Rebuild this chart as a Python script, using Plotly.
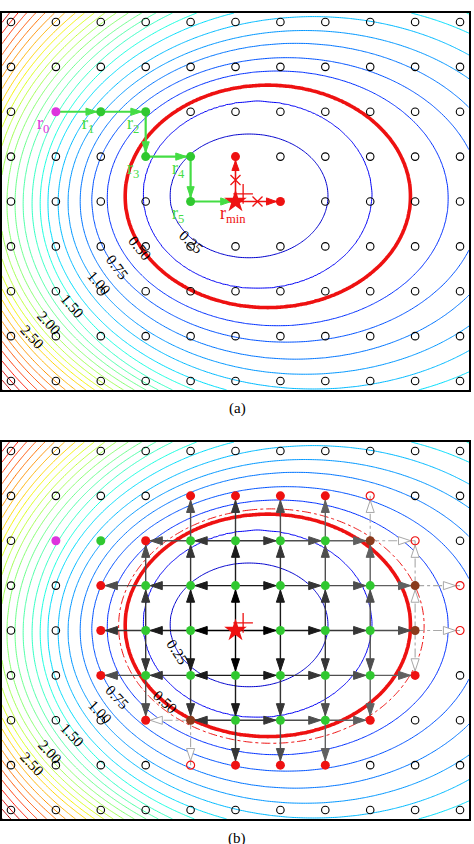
import numpy as np
import plotly.graph_objects as go

# ---------------- values ----------------
n_cols, n_rows = 11, 9                      # sample grid (columns u, rows v from the top)
f_min = 0.10
levels = [0.25, 0.375, 0.5, 0.625, 0.75, 0.875, 1.0, 1.125, 1.25, 1.375, 1.5, 1.625,
          1.75, 1.875, 2.0, 2.125, 2.25, 2.375, 2.5, 2.625, 2.75, 2.875, 3.0, 3.125,
          3.25, 3.375, 3.5, 3.625, 3.75, 3.875, 4.0]
# each contour is (close to) an ellipse: left crossing, centre, half-heights (grid units)
lvl_left = [3.54, 2.94, 2.54, 2.14, 1.80, 1.54, 1.27, 1.05, 0.82, 0.65, 0.47, 0.27, 0.09,
            -0.09, -0.25, -0.40, -0.54, -0.67, -0.79, -0.91, -1.03, -1.15, -1.27, -1.39,
            -1.51, -1.63, -1.75, -1.87, -1.99, -2.11, -2.23]
lvl_cu = [5.30, 5.49, 5.72, 5.94, 6.14, 6.34, 6.54, 6.74, 6.94, 7.14, 7.34, 7.54, 7.74, 7.94,
          8.14, 8.34, 8.54, 8.74, 8.94, 9.14, 9.34, 9.54, 9.74, 9.94, 10.14, 10.34, 10.54,
          10.74, 10.94, 11.14, 11.34]
lvl_cv = [3.875, 3.85, 3.885, 3.93, 3.965, 3.995, 4.02, 4.03, 4.04, 4.045, 4.05, 4.05, 4.05,
          4.05, 4.05, 4.05, 4.05, 4.05, 4.05, 4.05, 4.05, 4.05, 4.05, 4.05, 4.05, 4.05, 4.05,
          4.05, 4.05, 4.05, 4.05]
lvl_b_bottom = [1.38, 2.09, 2.48, 2.84, 3.17, 3.52, 3.83, 4.15, 4.44, 4.71, 4.95, 5.12, 5.28,
                5.44, 5.60, 5.76, 5.92, 6.08, 6.24, 6.46, 6.68, 6.90, 7.12, 7.36, 7.60, 7.84,
                8.08, 8.32, 8.56, 8.80, 9.04]
lvl_b_top = [1.38, 2.09, 2.48, 2.84, 3.17, 3.52, 3.83, 4.15, 4.48, 4.79, 5.07, 5.28, 5.48,
             5.68, 5.88, 6.08, 6.28, 6.48, 6.68, 6.94, 7.20, 7.46, 7.72, 7.99, 8.25, 8.52,
             8.78, 9.05, 9.31, 9.58, 9.84]
red_level = 0.5
dash_level = 0.55
colour_top = 3.65         # level shown in the darkest red of the jet scale

label_text = ["0.25", "0.50", "0.75", "1.00", "1.50", "2.00", "2.50"]
label_a_u = [4.01, 2.87, 2.36, 1.96, 1.36, 0.85, 0.47]
label_a_v = [4.90, 5.03, 5.46, 5.81, 6.33, 6.70, 7.02]
label_a_ang = [43, 50, 53, 48, 49, 47, 47]
label_b_u = [3.70, 3.43, 2.36, 1.98, 1.36, 0.87, 0.47]
label_b_v = [4.48, 5.59, 5.48, 5.81, 6.33, 6.70, 6.97]
label_b_ang = [57, 42, 47, 46, 47, 47, 47]

# panel (a): steepest-descent path
start_node = (1, 2)
path_a = [(1, 2), (2, 2), (3, 2), (3, 3), (4, 3), (4, 4), (5, 4)]
path_names = ["r<sub>0</sub>", "r<sub>1</sub>", "r<sub>2</sub>", "r<sub>3</sub>",
              "r<sub>4</sub>", "r<sub>5</sub>"]
star = (5, 4)
probe_a = [(5, 3), (6, 4)]
cross_u, cross_v = [5.0, 5.49], [3.52, 4.0]
plus_u, plus_v = 5.17, 3.83

# panel (b): flood fill around the minimum
extra_green_b = [(2, 2)]
green_b = [(4, 2), (5, 2), (6, 2), (7, 2), (3, 3), (4, 3), (5, 3), (6, 3), (7, 3), (8, 3),
           (3, 4), (4, 4), (6, 4), (7, 4), (8, 4), (3, 5), (4, 5), (5, 5), (6, 5), (7, 5),
           (8, 5), (5, 6), (6, 6), (7, 6)]
border_b = [(8, 2), (9, 3), (9, 4), (4, 6)]
red_b = [(4, 1), (5, 1), (6, 1), (7, 1), (3, 2), (2, 3), (2, 4), (2, 5), (9, 5), (3, 6),
         (8, 6), (5, 7), (6, 7), (7, 7)]
red_open_b = [(8, 1), (9, 2), (10, 3), (10, 4), (4, 7)]

# ---------------- colours / styles ----------------
def jet(x):
    r = np.interp(x, [0, 0.35, 0.66, 0.89, 1], [0, 0, 1, 1, 0.5])
    g = np.interp(x, [0, 0.125, 0.375, 0.64, 0.91, 1], [0, 0, 1, 1, 0, 0])
    b = np.interp(x, [0, 0.11, 0.34, 0.65, 1], [0.5, 1, 1, 0, 0])
    return "rgb(%d,%d,%d)" % (r * 255, g * 255, b * 255)

# plotly spreads a line-contour colourscale over [first level, last level]
lo, hi = levels[0], levels[-1]
jet_scale = [[float(p), jet(min(1.0, (lo + p * (hi - lo)) / colour_top))]
             for p in np.linspace(0, 1, 61)]
GREEN, LGREEN, RED, MAG = "#30c830", "#44dd44", "#ee1111", "#dd33dd"
BROWN = "#8a3a1c"
SERIF = "Liberation Serif"

# ---------------- field from the nested contour ellipses ----------------
L = np.array(levels)
cu = np.array(lvl_cu)[:, None, None]
cv = np.array(lvl_cv)[:, None, None]
aa = (np.array(lvl_cu) - np.array(lvl_left))[:, None, None]
uu = np.linspace(-0.2, 10.2, 261)
vv = np.linspace(-0.2, 8.2, 211)
U, V = np.meshgrid(uu, vv)
bb = np.where(V[None] < cv, np.array(lvl_b_top)[:, None, None],
              np.array(lvl_b_bottom)[:, None, None])
Q = np.sqrt(((U[None] - cu) / aa) ** 2 + ((V[None] - cv) / bb) ** 2)
K = len(L)
m = (Q >= 1).sum(axis=0)
k0 = np.clip(m - 1, 0, K - 2)
k1 = k0 + 1
q0 = np.take_along_axis(Q, k0[None], 0)[0]
q1 = np.take_along_axis(Q, k1[None], 0)[0]
F = L[k0] + (L[k1] - L[k0]) * (q0 - 1) / np.maximum(q0 - q1, 1e-6)
F = np.where(m == 0, f_min + (L[0] - f_min) * Q[0] ** 2, F)

fig = go.Figure()
axes = [("x", "y"), ("x2", "y2")]

def add_contours(xa, ya, dashed):
    fig.add_trace(go.Contour(x=uu, y=vv, z=F, xaxis=xa, yaxis=ya, autocontour=False,
                             contours=dict(start=lo, end=hi, size=0.125, coloring="lines"),
                             colorscale=jet_scale, line=dict(width=1), showscale=False,
                             hoverinfo="skip"))
    if dashed:
        fig.add_trace(go.Contour(x=uu, y=vv, z=F, xaxis=xa, yaxis=ya, autocontour=False,
                                 contours=dict(start=dash_level, end=dash_level, size=1,
                                               coloring="none"),
                                 line=dict(width=1, color=RED, dash="dashdot"),
                                 showscale=False, hoverinfo="skip"))
    fig.add_trace(go.Contour(x=uu, y=vv, z=F, xaxis=xa, yaxis=ya, autocontour=False,
                             contours=dict(start=red_level, end=red_level, size=1,
                                           coloring="none"),
                             line=dict(width=3.6, color=RED), showscale=False,
                             hoverinfo="skip"))

def head_poly(edges, gap, length, half):
    xs, ys = [], []
    for (a, b) in edges:
        dx, dy = b[0] - a[0], b[1] - a[1]
        n = np.hypot(dx, dy)
        ux, uy = dx / n, dy / n
        tx, ty = b[0] - ux * gap, b[1] - uy * gap
        bx, by = tx - ux * length, ty - uy * length
        px, py = -uy, ux
        xs += [tx, bx + px * half, bx - px * half, tx, None]
        ys += [ty, by + py * half, by - py * half, ty, None]
    return xs, ys

def seg(edges):
    xs, ys = [], []
    for (a, b) in edges:
        xs += [a[0], b[0], None]
        ys += [a[1], b[1], None]
    return xs, ys

def add_arrows(xa, ya, edges, color, width, dash="solid", open_head=False,
               gap=0.1, length=0.27, half=0.09):
    if not edges:
        return
    xs, ys = seg(edges)
    fig.add_trace(go.Scatter(x=xs, y=ys, xaxis=xa, yaxis=ya, mode="lines",
                             line=dict(color=color, width=width, dash=dash),
                             hoverinfo="skip", showlegend=False))
    hx, hy = head_poly(edges, gap, length, half)
    fig.add_trace(go.Scatter(x=hx, y=hy, xaxis=xa, yaxis=ya, mode="lines", fill="toself",
                             fillcolor="white" if open_head else color,
                             line=dict(color=color, width=1), hoverinfo="skip",
                             showlegend=False))

def add_points(xa, ya, nodes, color, size=9, symbol="circle", lw=0):
    if not nodes:
        return
    fig.add_trace(go.Scatter(x=[n[0] for n in nodes], y=[n[1] for n in nodes], xaxis=xa,
                             yaxis=ya, mode="markers",
                             marker=dict(symbol=symbol, size=size, color=color,
                                         line=dict(color=color, width=lw)),
                             hoverinfo="skip", showlegend=False))

def add_plus(xa, ya):
    fig.add_trace(go.Scatter(x=[plus_u], y=[plus_v], xaxis=xa, yaxis=ya, mode="markers",
                             marker=dict(symbol="cross-thin-open", size=14, color=RED,
                                         line=dict(color=RED, width=1.3)),
                             hoverinfo="skip", showlegend=False))

all_nodes = [(u, v) for v in range(n_rows) for u in range(n_cols)]

# ---------------- panel (a) ----------------
xa, ya = axes[0]
add_contours(xa, ya, False)
special_a = set(path_a) | set(probe_a)
add_points(xa, ya, [n for n in all_nodes if n not in special_a], "black", 7.5,
           "circle-open", 1.1)
path_edges = list(zip(path_a[:-1], path_a[1:]))
add_arrows(xa, ya, path_edges, LGREEN, 2.2, gap=0.09, length=0.24, half=0.08)
probe_edges = [(star, p) for p in probe_a]
add_arrows(xa, ya, probe_edges, RED, 1.6, gap=0.09, length=0.22, half=0.08)
add_points(xa, ya, [start_node], MAG, 9)
add_points(xa, ya, path_a[1:-1], GREEN, 9)
add_points(xa, ya, probe_a, RED, 9)
fig.add_trace(go.Scatter(x=cross_u, y=cross_v, xaxis=xa, yaxis=ya, mode="markers",
                         marker=dict(symbol="x-thin-open", size=10, color=RED,
                                     line=dict(color=RED, width=1.3)),
                         hoverinfo="skip", showlegend=False))
add_points(xa, ya, [star], RED, 17, "star")
add_plus(xa, ya)

# ---------------- panel (b) ----------------
xa, ya = axes[1]
add_contours(xa, ya, True)

def depth(n):
    return abs(n[0] - star[0]) + abs(n[1] - star[1])

expanded = [star] + green_b + border_b
solid_edges, dash_edges = [], []
for n in expanded:
    for d in [(1, 0), (-1, 0), (0, 1), (0, -1)]:
        mm = (n[0] + d[0], n[1] + d[1])
        if 0 <= mm[0] < n_cols and 0 <= mm[1] < n_rows and depth(mm) > depth(n):
            (dash_edges if n in border_b else solid_edges).append((n, mm))

special_b = set(green_b) | set(border_b) | set(red_b) | set(red_open_b) | {star} | \
    set(extra_green_b) | {start_node}
add_points(xa, ya, [n for n in all_nodes if n not in special_b], "black", 7.5,
           "circle-open", 1.1)
add_arrows(xa, ya, dash_edges, "#a8a8a8", 1.1, dash="dashdot", open_head=True)
shades = ["#000000", "#1a1a1a", "#363636", "#4e4e4e", "#606060", "#6e6e6e", "#7a7a7a"]
for dep in range(7):
    add_arrows(xa, ya, [e for e in solid_edges if depth(e[0]) == dep], shades[dep], 1.4)
add_points(xa, ya, [start_node], MAG, 9)
add_points(xa, ya, extra_green_b + green_b, GREEN, 9)
add_points(xa, ya, border_b, BROWN, 9)
add_points(xa, ya, red_b, RED, 9)
add_points(xa, ya, red_open_b, RED, 8, "circle-open", 1.2)
add_points(xa, ya, [star], RED, 17, "star")
add_plus(xa, ya)

# ---------------- text ----------------
ann = []
for t, u, v, a in zip(label_text, label_a_u, label_a_v, label_a_ang):
    ann.append(dict(x=u, y=v, xref="x", yref="y", text=t, textangle=a, showarrow=False,
                    font=dict(family=SERIF, size=15, color="black")))
for t, u, v, a in zip(label_text, label_b_u, label_b_v, label_b_ang):
    ann.append(dict(x=u, y=v, xref="x2", yref="y2", text=t, textangle=a, showarrow=False,
                    font=dict(family=SERIF, size=15, color="black")))
for i, (node, name) in enumerate(zip(path_a[:-1], path_names)):
    ann.append(dict(x=node[0] - 0.28, y=node[1] + 0.29, xref="x", yref="y", text=name,
                    showarrow=False, font=dict(family=SERIF, size=18,
                                               color=MAG if i == 0 else LGREEN)))
ann.append(dict(x=star[0] - 0.05, y=star[1] + 0.29, xref="x", yref="y",
                text="r<sub>min</sub>", showarrow=False,
                font=dict(family=SERIF, size=18, color=RED)))
ann.append(dict(x=0.5, y=1 - 408 / 844, xref="paper", yref="paper", text="(a)",
                showarrow=False, font=dict(family=SERIF, size=15, color="black")))
ann.append(dict(x=0.5, y=1 - 828 / 844, xref="paper", yref="paper", text="(b)",
                yanchor="top", showarrow=False,
                font=dict(family=SERIF, size=15, color="black")))

ax_common = dict(range=[-0.2, 10.2], showgrid=False, zeroline=False, showticklabels=False,
                 ticks="", showline=True, mirror=True, linecolor="black", linewidth=1.5)
ay_common = dict(range=[8.2, -0.2], showgrid=False, zeroline=False, showticklabels=False,
                 ticks="", showline=True, mirror=True, linecolor="black", linewidth=1.5)
xd = [2 / 474, 469 / 474]
fig.update_layout(
    width=474, height=844, margin=dict(l=0, r=0, t=0, b=0),
    paper_bgcolor="white", plot_bgcolor="white", showlegend=False,
    xaxis=dict(domain=xd, anchor="y", **ax_common),
    yaxis=dict(domain=[1 - 390 / 844, 1 - 13 / 844], anchor="x", **ay_common),
    xaxis2=dict(domain=xd, anchor="y2", **ax_common),
    yaxis2=dict(domain=[1 - 819 / 844, 1 - 442 / 844], anchor="x2", **ay_common),
    annotations=ann,
)
fig.write_html("out.html")
